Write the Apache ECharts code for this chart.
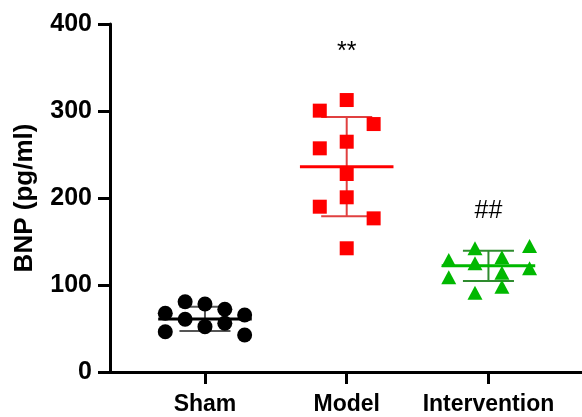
<!DOCTYPE html>
<html><head><meta charset="utf-8">
<script src="https://cdn.jsdelivr.net/npm/echarts@6/dist/echarts.min.js"></script>
<style>html,body{margin:0;padding:0;background:#fff}#c{width:582px;height:417px}</style>
</head><body><div id="c"></div>
<script>
var categories = ['Sham', 'Model', 'Intervention'];
var yTicks = [0, 100, 200, 300, 400];
var shamValues = [67.5, 46.3, 80.8, 60.6, 78.2, 52.1, 72.1, 56, 65.5, 42.5];
var shamJitter = [-0.28, -0.28, -0.14, -0.14, 0, 0, 0.14, 0.14, 0.28, 0.28];
var modelValues = [312.6, 300.4, 285, 264.7, 257.1, 227.6, 200.8, 190, 176.6, 142.2];
var modelJitter = [0, -0.19, 0.19, 0, -0.19, 0, 0, -0.19, 0.19, 0];
var interValues = [142.2, 144.8, 128.7, 124.9, 131.8, 119.2, 114.1, 108.9, 98, 91.1];
var interJitter = [-0.095, 0.29, -0.28, -0.095, 0.095, 0.29, 0.095, -0.28, 0.095, -0.095];
var groupMeans = [61, 236, 122];
var groupSD = [14, 57, 17.5];
var annotations = ['', '**', '##'];
var annotationValues = [0, 368, 185];

var colors = ['#000000', '#ff0000', '#00b800'];
var barColors = ['#555555', '#e04040', '#2e8b2e'];
var FONT = 'Liberation Sans, Arial, Helvetica, sans-serif';

function pts(vals, jit, g) { return vals.map(function (v, i) { return [g + 1 + jit[i], v]; }); }

var chart = echarts.init(document.getElementById('c'));
chart.setOption({
  animation: false,
  grid: { left: 110, right: 0, top: 24, bottom: 45 },
  xAxis: {
    type: 'value', min: 0.33, max: 3.66,
    splitLine: { show: false },
    axisLine: { show: true, lineStyle: { color: '#000', width: 3 } },
    axisTick: { show: true, length: 12, lineStyle: { color: '#000', width: 3 }, customValues: [1, 2, 3] },
    axisLabel: { show: true, customValues: [1, 2, 3], margin: 21, color: '#000', fontSize: 23, fontWeight: 'bold', fontFamily: FONT,
      formatter: function (v) { return categories[Math.round(v) - 1] || ''; } }
  },
  yAxis: {
    type: 'value', min: 0, max: 400, interval: 100,
    name: 'BNP (pg/ml)', nameLocation: 'middle', nameGap: 72,
    nameTextStyle: { color: '#000', fontSize: 26, fontWeight: 'bold', fontFamily: FONT },
    splitLine: { show: false },
    axisLine: { show: true, lineStyle: { color: '#000', width: 3 } },
    axisTick: { show: true, length: 12, lineStyle: { color: '#000', width: 3 } },
    axisLabel: { margin: 18, color: '#000', fontSize: 25, fontWeight: 'bold', fontFamily: FONT,
      formatter: function (v) { return yTicks.indexOf(v) >= 0 ? String(v) : ''; } }
  },
  series: [
    {
      type: 'custom', z: 2,
      data: groupMeans.map(function (m, i) { return [i + 1, m, groupSD[i], i]; }),
      renderItem: function (params, api) {
        var g = api.value(0), m = api.value(1), sd = api.value(2), k = api.value(3);
        var c = api.coord([g, m]);
        var l = api.coord([g - 0.33, m]), r = api.coord([g + 0.33, m]);
        var top = api.coord([g, m + sd]), bot = api.coord([g, m - sd]);
        var capL = api.coord([g - 0.18, m]), capR = api.coord([g + 0.18, m]);
        var bs = { stroke: barColors[k], lineWidth: 2 };
        return { type: 'group', children: [
          { type: 'line', shape: { x1: c[0], y1: top[1], x2: c[0], y2: bot[1] }, style: bs },
          { type: 'line', shape: { x1: capL[0], y1: top[1], x2: capR[0], y2: top[1] }, style: bs },
          { type: 'line', shape: { x1: capL[0], y1: bot[1], x2: capR[0], y2: bot[1] }, style: bs },
          { type: 'line', shape: { x1: l[0], y1: c[1], x2: r[0], y2: c[1] }, style: { stroke: colors[k], lineWidth: 3 } }
        ] };
      }
    },
    { type: 'scatter', z: 3, symbol: 'circle', symbolSize: 15, itemStyle: { color: colors[0], opacity: 1 }, data: pts(shamValues, shamJitter, 0) },
    { type: 'scatter', z: 3, symbol: 'rect', symbolSize: 14, itemStyle: { color: colors[1], opacity: 1 }, data: pts(modelValues, modelJitter, 1) },
    { type: 'scatter', z: 3, symbol: 'triangle', symbolSize: [15, 14], itemStyle: { color: colors[2], opacity: 1 }, data: pts(interValues, interJitter, 2) },
    {
      type: 'custom', z: 4,
      data: annotations.map(function (a, i) { return [i + 1, annotationValues[i], i]; }),
      renderItem: function (params, api) {
        var k = api.value(2);
        var p = api.coord([api.value(0), api.value(1)]);
        return { type: 'text', style: { text: annotations[k], x: p[0], y: p[1], align: 'center', verticalAlign: 'middle',
          fontSize: 25, fontFamily: FONT, fill: '#000' } };
      }
    }
  ]
});
</script></body></html>
